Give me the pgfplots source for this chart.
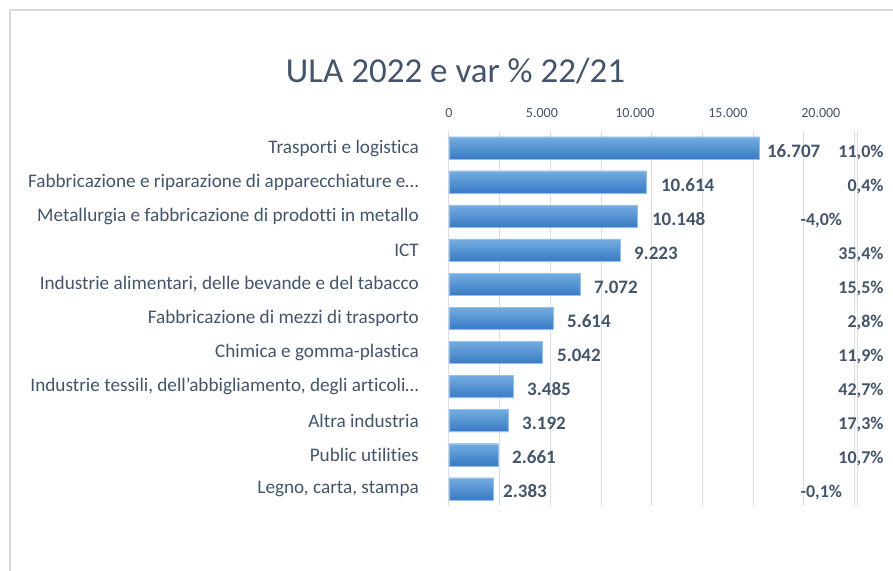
\documentclass[border=0pt]{standalone}
\usepackage{pgfplots}
\pgfplotsset{compat=1.18}
\usepackage{pgfplotstable}
\usepackage{fontspec}
\setmainfont{Carlito}[Ligatures=NoCommon]
\definecolor{txt}{RGB}{68,84,106}
\definecolor{gridc}{RGB}{220,222,231}
\definecolor{bartop}{RGB}{116,172,224}
\definecolor{barbot}{RGB}{60,126,199}
\definecolor{baredge}{RGB}{150,192,232}
\definecolor{framec}{RGB}{217,217,217}

\pgfplotstableread{
y v lx lab
0 16707 17097 16.707
1 10614 11398 10.614
2 10148 10914 10.148
3 9223 9946 9.223
4 7072 7796 7.072
5 5614 6344 5.614
6 5042 5806 5.042
7 3485 4194 3.485
8 3192 3925 3.192
9 2661 3387 2.661
10 2383 2903 2.383
}\vals

\pgfplotstableread{
y px lab
0 23387 11,0\%
1 23387 0,4\%
2 21156 -4,0\%
3 23387 35,4\%
4 23387 15,5\%
5 23387 2,8\%
6 23387 11,9\%
7 23387 42,7\%
8 23387 17,3\%
9 23387 10,7\%
10 21156 -0,1\%
}\pcts

\begin{document}
\begin{tikzpicture}
\begin{axis}[
  scale only axis, width=409pt, height=375pt,
  xmin=0, xmax=22000, ymin=-0.5, ymax=10.5, y dir=reverse,
  clip=false,
  scaled x ticks=false,
  axis line style={draw=none},
  major tick length=0pt,
  xticklabel pos=upper,
  xtick={0,5000,10000,15000,20000},
  xticklabels={0,5.000,10.000,15.000,20.000},
  xticklabel style={font=\fontsize{14}{16}\selectfont, text=txt, inner sep=0pt, anchor=south, yshift=13pt},
  ytick={0,1,2,3,4,5,6,7,8,9,10},
  yticklabels={Trasporti e logistica,
    Fabbricazione e riparazione di apparecchiature e…,
    Metallurgia e fabbricazione di prodotti in metallo,
    ICT,
    {Industrie alimentari, delle bevande e del tabacco},
    Fabbricazione di mezzi di trasporto,
    Chimica e gomma-plastica,
    {Industrie tessili, dell’abbigliamento, degli articoli…},
    Altra industria,
    Public utilities,
    {Legno, carta, stampa}},
  yticklabel style={font=\fontsize{19.2}{22}\selectfont, text=txt, inner sep=0pt, anchor=east, xshift=-30pt},
  extra x ticks={0,2726,5452,8178,10904,13630,16356,19082,21808,21970},
  extra x tick labels={},
  extra x tick style={grid=major, major grid style={draw=gridc, line width=1pt}},
]
\foreach \k in {0,...,10}{
  \pgfmathtruncatemacro\p{100-10*\k}
  \pgfmathsetmacro\s{10-2*\k}
  \edef\tmp{\noexpand\addplot[xbar, bar width=2.8pt, bar shift=\s pt, draw=none, fill=bartop!\p!barbot, forget plot] table[x=v,y=y]{\noexpand\vals};}
  \tmp
}
\addplot[xbar, bar width=22pt, bar shift=0pt, draw=baredge, line width=0.6pt, fill=none]
  table[x=v, y=y]{\vals};
\addplot[only marks, mark=*, mark size=0pt, mark options={draw=none, fill=none},
  nodes near coords, point meta=explicit symbolic,
  every node near coord/.append style={anchor=base west, inner sep=0pt, yshift=-9pt,
    font=\bfseries\fontsize{19}{22}\selectfont, text=txt}]
  table[x=lx, y=y, meta=lab]{\vals};
\addplot[only marks, mark=*, mark size=0pt, mark options={draw=none, fill=none},
  nodes near coords, point meta=explicit symbolic,
  every node near coord/.append style={anchor=base east, inner sep=0pt, yshift=-9pt,
    font=\bfseries\fontsize{18}{21}\selectfont, text=txt}]
  table[x=px, y=y, meta=lab]{\pcts};
\end{axis}
\node[anchor=base, font=\fontsize{35}{42}\selectfont, text=txt] at (6.5pt,423pt) {ULA 2022 e var \% 22/21};
\draw[framec, line width=1.5pt] (-439pt,-80pt) -- (-439pt,496pt) -- (460pt,496pt);
\pgfresetboundingbox
\path[use as bounding box] (-449pt,-64pt) rectangle (444pt,506pt);
\end{tikzpicture}
\end{document}
